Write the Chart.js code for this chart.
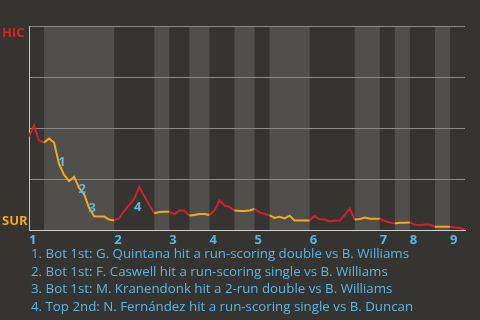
<!DOCTYPE html>
<html><head><meta charset="utf-8">
<script src="https://cdn.jsdelivr.net/npm/chart.js@4/dist/chart.umd.min.js"></script>
<style>
html,body{margin:0;padding:0;background:#363430;}
#wrap{position:relative;width:480px;height:320px;overflow:hidden;background:#363430;}
#c{position:absolute;left:0;top:0;}
#legend{position:absolute;left:31px;top:245px;margin:0;padding:0;list-style:none;font-family:"Open Sans",sans-serif;font-size:13.3px;line-height:17.7px;color:#55b7e6;white-space:nowrap;}
#legend li{margin:0;padding:0;}
</style></head><body>
<div id="wrap"><canvas id="c" width="480" height="320"></canvas>
<ul id="legend"></ul></div>
<script>
// plate appearances per half-inning (top 1st, bot 1st, top 2nd, ...)
const halfInningPA = [3,14,8,3,4,4,5,4,3,8,9,5,3,3,5,3,3];
// HIC win probability after each plate appearance (index 0 = first pitch)
const winProb = [
 0.459,0.513,0.439,0.429,0.448,0.429,0.324,0.270,0.240,0.260,
 0.206,0.176,0.108,0.067,0.066,0.066,0.051,0.047,0.059,0.093,
 0.123,0.152,0.211,0.167,0.123,0.082,0.088,0.090,0.090,0.078,
 0.095,0.095,0.071,0.074,0.078,0.078,0.074,0.096,0.145,0.120,
 0.113,0.096,0.093,0.093,0.096,0.103,0.087,0.078,0.072,0.059,
 0.065,0.057,0.070,0.047,0.047,0.047,0.047,0.070,0.051,0.051,
 0.042,0.046,0.046,0.074,0.105,0.051,0.054,0.061,0.055,0.055,
 0.055,0.044,0.037,0.032,0.036,0.036,0.037,0.026,0.023,0.027,
 0.027,0.016,0.016,0.016,0.016,0.012,0.010,0.003
];
const inningLabels = ['1','2','3','4','5','6','7','8','9'];
const teamLabels = ['HIC','SUR'];
const yGridValues = [0,0.25,0.5,0.75,1];
// key plays: label, position along game (PA index), win probability level
const playNums = ['1','2','3','4'];
const playX = [6.6,10.6,12.6,21.7];
const playY = [0.332,0.201,0.104,0.111];
const playNotes = [
 '1. Bot 1st: G. Quintana hit a run-scoring double vs B. Williams',
 '2. Bot 1st: F. Caswell hit a run-scoring single vs B. Williams',
 '3. Bot 1st: M. Kranendonk hit a 2-run double vs B. Williams',
 '4. Top 2nd: N. Fernández hit a run-scoring single vs B. Duncan'
];

const RED = '#d3222c', YEL = '#f4a91c', BLUE = '#55b7e6', BAND = '#504f4c';
const bounds = [0];
halfInningPA.forEach(n => bounds.push(bounds[bounds.length-1] + n));
const inningStarts = bounds.filter((b,i) => i % 2 === 0 && i < halfInningPA.length);
function halfOf(pa){ for (let k=0;k<halfInningPA.length;k++){ if (pa <= bounds[k+1]) return k; } return halfInningPA.length-1; }

document.getElementById('legend').innerHTML = playNotes.map(t => '<li>'+t+'</li>').join('');

const bandsPlugin = {
  id:'bands',
  beforeDraw(chart){
    const {ctx, chartArea:a, scales:{x}} = chart;
    ctx.save();
    ctx.fillStyle = BAND;
    for (let k=1;k<halfInningPA.length;k+=2){
      const x0 = x.getPixelForValue(bounds[k]), x1 = x.getPixelForValue(bounds[k+1]);
      ctx.fillRect(x0, a.top, x1-x0, a.bottom-a.top);
    }
    ctx.restore();
  }
};
const textPlugin = {
  id:'texts',
  afterDatasetsDraw(chart){
    const {ctx, scales:{x,y}} = chart;
    ctx.save();
    ctx.font = 'bold 13px "Open Sans"';
    ctx.textBaseline = 'middle';
    ctx.textAlign = 'left';
    ctx.fillStyle = RED;
    ctx.fillText(teamLabels[0], 2, y.getPixelForValue(1) + 7);
    ctx.fillStyle = YEL;
    ctx.fillText(teamLabels[1], 2, y.getPixelForValue(0) - 9);
    ctx.textAlign = 'center';
    ctx.fillStyle = BLUE;
    playNums.forEach((t,i) => ctx.fillText(t, x.getPixelForValue(playX[i]), y.getPixelForValue(playY[i])));
    ctx.restore();
  }
};

new Chart(document.getElementById('c'), {
  type:'line',
  data:{datasets:[{
    data: winProb.map((v,i)=>({x:i,y:v})),
    borderWidth:2, pointRadius:0, tension:0, fill:false,
    borderColor: YEL,
    segment:{ borderColor: c => (halfOf(c.p1DataIndex) % 2 === 0 ? RED : YEL) }
  }]},
  options:{
    responsive:false, animation:false, events:[],
    plugins:{legend:{display:false}, tooltip:{enabled:false}},
    layout:{padding:{left:29,right:15,top:26,bottom:72}},
    scales:{
      x:{type:'linear', min:0, max:winProb.length-1,
        afterBuildTicks: s => { s.ticks = inningStarts.map(v => ({value:v})); },
        ticks:{align:'start', padding:2, color:BLUE, autoSkip:false, maxRotation:0,
          font:{family:'Open Sans', size:13, weight:'bold'},
          callback:(v,i) => inningLabels[i]},
        grid:{display:false, drawTicks:false},
        border:{display:true, color:'#d0d0d0', width:1},
        afterFit: s => { s.height = 18; }
      },
      y:{min:0, max:1,
        afterBuildTicks: s => { s.ticks = yGridValues.map(v => ({value:v})); },
        ticks:{display:false},
        grid:{color:'#8a8a88', drawTicks:false, lineWidth:1},
        border:{display:true, color:'#c8c8c8', width:1},
        afterFit: s => { s.width = 0; }
      }
    }
  },
  plugins:[bandsPlugin, textPlugin]
});
</script>
</body></html>
